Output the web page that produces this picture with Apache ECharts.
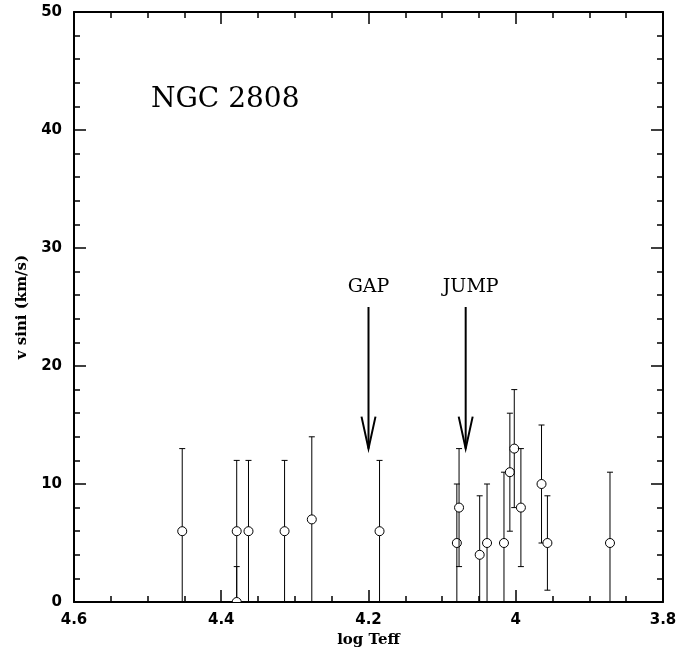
<!DOCTYPE html>
<html>
<head>
<meta charset="utf-8">
<title>NGC 2808</title>
<script src="https://cdn.jsdelivr.net/npm/echarts@6/dist/echarts.min.js"></script>
<style>
html, body { margin: 0; padding: 0; background: #fff; }
#chart { width: 693px; height: 654px; }
</style>
</head>
<body>
<div id="chart"></div>
<script>
// log Teff, v sini and error bar ends (km/s)
const logTeff = [4.453, 4.379, 4.379, 4.363, 4.314, 4.277, 4.185, 4.080, 4.077, 4.049, 4.039, 4.016, 4.008, 4.002, 3.993, 3.965, 3.957, 3.872];
const vsini   = [6, 6, 0, 6, 6, 7, 6, 5, 8, 4, 5, 5, 11, 13, 8, 10, 5, 5];
const errLow  = [-1, 0, -3, 0, 0, 0, 0, 0, 3, -1, 0, -1, 6, 8, 3, 5, 1, -1];
const errHigh = [13, 12, 3, 12, 12, 14, 12, 10, 13, 9, 10, 11, 16, 18, 13, 15, 9, 11];

// arrows: label, x, top of shaft, tip
const arrowLabels = ['GAP', 'JUMP'];
const arrowX      = [4.2, 4.068];
const arrowTop    = [25, 25];
const arrowTip    = [13, 13];

const xTicks = { min: 3.8, max: 4.6, interval: 0.2 };
const yTicks = { min: 0, max: 50, interval: 10 };

var myChart = echarts.init(document.getElementById('chart'));

const pointData = logTeff.map((t, i) => [t, vsini[i], errLow[i], errHigh[i]]);
const arrowData = arrowX.map((x, i) => [x, arrowTop[i], arrowTip[i]]);

const serif = "'DejaVu Serif', 'Liberation Serif', serif";

function xAxisOf(pos, showLabel) {
	return {
		type: 'value',
		position: pos,
		min: xTicks.min,
		max: xTicks.max,
		interval: xTicks.interval,
		inverse: true,
		name: showLabel ? 'log Teff' : '',
		nameLocation: 'middle',
		nameGap: 25,
		nameTextStyle: { fontFamily: serif, fontWeight: 'bold', fontSize: 15, color: '#000' },
		axisLine: { show: true, onZero: false, lineStyle: { color: '#000', width: 2 } },
		axisTick: { show: true, inside: true, length: 12, lineStyle: { color: '#000', width: 1.5 } },
		minorTick: { show: true, splitNumber: 4, length: 6, lineStyle: { color: '#000', width: 1.5 } },
		axisLabel: {
			show: showLabel, margin: 11, color: '#000',
			fontFamily: "'DejaVu Sans', sans-serif", fontWeight: 'bold', fontSize: 15
		},
		splitLine: { show: false }
	};
}

function yAxisOf(pos, showLabel) {
	return {
		type: 'value',
		position: pos,
		min: yTicks.min,
		max: yTicks.max,
		interval: yTicks.interval,
		name: showLabel ? 'v sini (km/s)' : '',
		nameLocation: 'middle',
		nameGap: 44,
		nameTextStyle: { fontFamily: serif, fontWeight: 'bold', fontSize: 15, color: '#000' },
		axisLine: { show: true, onZero: false, lineStyle: { color: '#000', width: 2 } },
		axisTick: { show: true, inside: true, length: 12, lineStyle: { color: '#000', width: 1.5 } },
		minorTick: { show: true, splitNumber: 5, length: 6, lineStyle: { color: '#000', width: 1.5 } },
		axisLabel: {
			show: showLabel, margin: 12, color: '#000',
			fontFamily: "'DejaVu Sans', sans-serif", fontWeight: 'bold', fontSize: 15
		},
		splitLine: { show: false }
	};
}

var option = {
	animation: false,
	backgroundColor: '#fff',
	title: {
		text: 'NGC 2808',
		left: 146,
		top: 81,
		textStyle: { fontFamily: serif, fontWeight: 'normal', fontSize: 28, color: '#000' }
	},
	grid: {
		left: 74,
		right: 30,
		top: 12,
		bottom: 52,
		containLabel: false,
		outerBoundsMode: 'none'
	},
	xAxis: [xAxisOf('bottom', true), xAxisOf('top', false)],
	yAxis: [yAxisOf('left', true), yAxisOf('right', false)],
	series: [
		{
			// error bars + open circles
			type: 'custom',
			xAxisIndex: 0,
			yAxisIndex: 0,
			clip: true,
			renderItem: function (params, api) {
				var p = api.coord([api.value(0), api.value(1)]);
				var lo = api.coord([api.value(0), api.value(2)]);
				var hi = api.coord([api.value(0), api.value(3)]);
				var cap = 3;
				return {
					type: 'group',
					children: [
						{ type: 'line', shape: { x1: p[0], y1: lo[1], x2: p[0], y2: hi[1] }, style: { stroke: '#000', lineWidth: 1 } },
						{ type: 'line', shape: { x1: p[0] - cap, y1: hi[1], x2: p[0] + cap, y2: hi[1] }, style: { stroke: '#000', lineWidth: 1 } },
						{ type: 'line', shape: { x1: p[0] - cap, y1: lo[1], x2: p[0] + cap, y2: lo[1] }, style: { stroke: '#000', lineWidth: 1 } },
						{ type: 'circle', shape: { cx: p[0], cy: p[1], r: 4.5 }, style: { stroke: '#000', fill: '#fff', lineWidth: 1 } }
					]
				};
			},
			encode: { x: 0, y: 1 },
			data: pointData
		},
		{
			// GAP / JUMP arrows
			type: 'custom',
			xAxisIndex: 0,
			yAxisIndex: 0,
			renderItem: function (params, api) {
				var top = api.coord([api.value(0), api.value(1)]);
				var tip = api.coord([api.value(0), api.value(2)]);
				return {
					type: 'group',
					children: [
						{ type: 'line', shape: { x1: top[0], y1: top[1], x2: tip[0], y2: tip[1] }, style: { stroke: '#000', lineWidth: 2 } },
						{
							type: 'polyline',
							shape: { points: [[tip[0] - 7, tip[1] - 32], [tip[0], tip[1]], [tip[0] + 7, tip[1] - 32]] },
							style: { stroke: '#000', fill: null, lineWidth: 2 }
						},
						{
							type: 'text',
							x: top[0] + (params.dataIndex === 1 ? 5 : 0),
							y: top[1] - 10,
							style: {
								text: arrowLabels[params.dataIndex],
								fontFamily: serif, fontSize: 19, fill: '#000',
								align: 'center', verticalAlign: 'bottom'
							}
						}
					]
				};
			},
			encode: { x: 0, y: 1 },
			data: arrowData
		}
	]
};
myChart.setOption(option);
</script>
</body>
</html>
